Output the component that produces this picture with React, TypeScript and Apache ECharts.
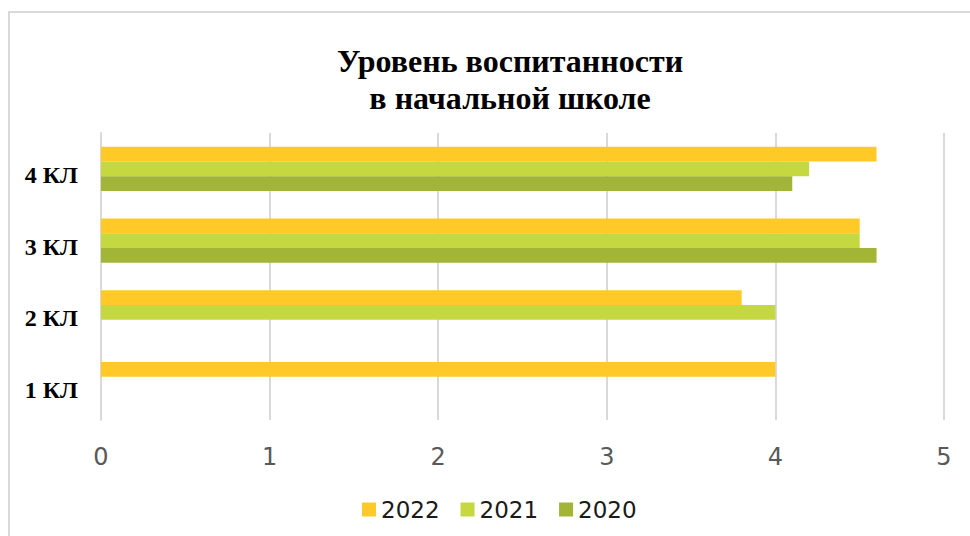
import React, { useEffect, useRef } from "react";
import * as echarts from "echarts";

const categories = ["1 КЛ", "2 КЛ", "3 КЛ", "4 КЛ"];
const seriesNames = ["2022", "2021", "2020"];
const values2022 = [4.0, 3.8, 4.5, 4.6];
const values2021 = [null, 4.0, 4.5, 4.2];
const values2020 = [null, null, 4.6, 4.1];
const xTicks = { min: 0, max: 5, interval: 1 };
const colors = ["#FFCA28", "#C5D840", "#A2B536"];

export default function App() {
  const ref = useRef<HTMLDivElement>(null);
  useEffect(() => {
    if (!ref.current) return;
    const chart = echarts.init(ref.current, undefined, { renderer: "svg" });
    const data = [values2022, values2021, values2020];
    chart.setOption({
      animation: false,
      backgroundColor: "#fff",
      title: {
        text: "Уровень воспитанности\nв начальной школе",
        left: 505,
        top: 37,
        textAlign: "center",
        textStyle: {
          fontFamily: "Liberation Serif",
          fontWeight: "bold",
          fontSize: 32,
          lineHeight: 37,
          color: "#000",
        },
      },
      graphic: [
        {
          type: "rect",
          shape: { x: 9, y: 12, width: 1000, height: 600 },
          style: { fill: "none", stroke: "#d9d9d9", lineWidth: 2 },
          silent: true,
        },
      ],
      legend: {
        data: seriesNames,
        left: 357,
        top: 493,
        icon: "rect",
        itemWidth: 14,
        itemHeight: 14,
        itemGap: 21,
        textStyle: { fontFamily: "DejaVu Sans", fontSize: 23, color: "#1a1a1a" },
      },
      grid: { left: 101, right: 26, top: 133, bottom: 116, containLabel: false },
      xAxis: {
        type: "value",
        min: xTicks.min,
        max: xTicks.max,
        interval: xTicks.interval,
        axisLine: { show: false },
        axisTick: { show: false },
        splitLine: { show: true, lineStyle: { color: "#d9d9d9", width: 2 } },
        axisLabel: { fontFamily: "DejaVu Sans", fontSize: 24, color: "#595959", margin: 25 },
      },
      yAxis: {
        type: "category",
        data: categories,
        axisLine: { show: true, lineStyle: { color: "#d9d9d9", width: 2 } },
        axisTick: { show: false },
        axisLabel: {
          fontFamily: "Liberation Serif",
          fontWeight: "bold",
          fontSize: 24,
          color: "#000",
          margin: 23,
          verticalAlign: "top",
          lineHeight: 12,
        },
      },
      series: seriesNames.map((name, i) => ({
        name,
        type: "bar",
        data: data[i],
        barGap: "0%",
        barCategoryGap: "38%",
        itemStyle: { color: colors[i] },
      })),
    });
    return () => chart.dispose();
  }, []);
  return (
    <div
      ref={ref}
      style={{ position: "fixed", left: 0, top: 0, width: 970, height: 536 }}
    />
  );
}
